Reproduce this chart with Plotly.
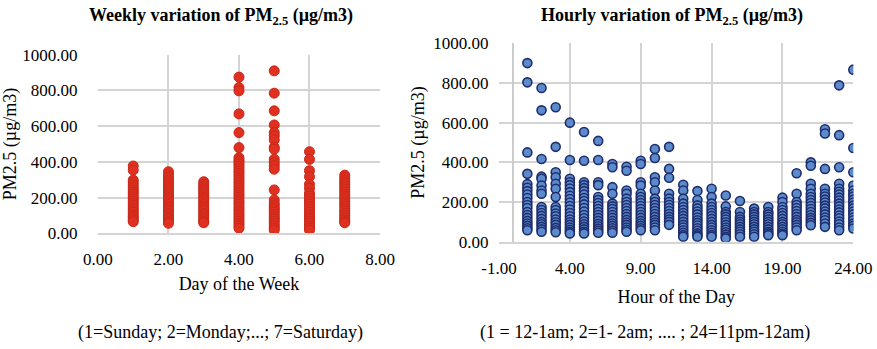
import plotly.graph_objects as go

# PM2.5 concentrations (µg/m3) grouped by day of week (1=Sunday ... 7=Saturday)
days = [1, 2, 3, 4, 5, 6, 7]
pm_by_day = [
    [377, 354, 298, 285, 270, 255, 242, 230, 218, 205, 192, 180, 168, 155, 142, 130, 118, 105, 95, 85, 75, 65],
    [345, 330, 315, 300, 288, 275, 262, 250, 238, 225, 212, 200, 188, 175, 162, 150, 138, 125, 112, 100, 88, 78, 66, 56],
    [289, 275, 262, 250, 238, 225, 212, 200, 188, 175, 162, 150, 138, 125, 112, 100, 88, 76, 66, 59],
    [875, 817, 798, 669, 564, 480, 424, 411, 401, 388, 375, 362, 348, 335, 322, 308, 295, 282, 268, 255,
     242, 228, 215, 202, 188, 175, 162, 148, 135, 122, 108, 95, 82, 68, 55, 42, 28],
    [910, 785, 686, 607, 564, 546, 523, 482, 471, 415, 396, 378, 359, 243, 187, 168, 155, 142, 130, 118,
     105, 92, 80, 68, 55, 42, 30, 18],
    [457, 414, 351, 317, 275, 252, 225, 210, 195, 180, 165, 150, 135, 120, 105, 92, 80, 68, 55, 42, 30, 18],
    [326, 312, 298, 285, 272, 258, 245, 232, 218, 205, 192, 178, 165, 152, 138, 125, 112, 100, 88, 76, 66, 59],
]

# PM2.5 concentrations (µg/m3) grouped by hour of day (1 = 12-1am ... 24 = 11pm-12am)
hours = list(range(1, 25))
pm_by_hour = [
    [900, 803, 450, 342, 290, 272, 255, 238, 220, 200, 185, 170, 150, 135, 120, 105, 92, 80, 68, 58],
    [775, 662, 417, 328, 317, 283, 258, 242, 175, 160, 145, 130, 115, 100, 88, 75, 62, 50],
    [678, 478, 350, 325, 292, 267, 225, 175, 160, 142, 128, 112, 98, 85, 70, 58, 48],
    [600, 412, 317, 300, 285, 268, 250, 232, 215, 198, 180, 162, 145, 128, 112, 98, 85, 72, 60, 50, 42],
    [553, 408, 300, 285, 270, 255, 238, 220, 205, 188, 170, 152, 135, 118, 102, 88, 75, 62, 50, 42],
    [508, 412, 300, 285, 225, 210, 195, 180, 165, 150, 135, 120, 105, 90, 78, 66, 55, 45],
    [392, 375, 275, 242, 192, 178, 165, 150, 135, 120, 105, 92, 80, 68, 56, 45],
    [378, 358, 258, 242, 217, 200, 185, 170, 155, 140, 125, 110, 97, 85, 72, 60, 50],
    [408, 392, 300, 283, 242, 225, 210, 195, 180, 165, 150, 135, 120, 105, 92, 80, 68, 58],
    [467, 422, 325, 300, 258, 217, 200, 185, 170, 155, 140, 125, 110, 97, 85, 72, 58],
    [478, 367, 322, 242, 217, 200, 185, 170, 155, 140, 125, 112, 100, 85],
    [287, 258, 217, 192, 175, 160, 145, 130, 115, 100, 85, 72, 58, 45, 33, 25],
    [255, 210, 183, 168, 152, 138, 122, 108, 95, 82, 68, 55, 42, 32, 25],
    [267, 225, 192, 175, 160, 145, 130, 115, 100, 85, 72, 58, 45, 33, 25],
    [233, 178, 150, 138, 125, 112, 98, 85, 72, 60, 48, 36, 25, 17],
    [205, 150, 125, 112, 100, 88, 75, 62, 50, 38, 25],
    [167, 150, 138, 125, 112, 100, 88, 75, 62, 50, 38, 25],
    [175, 150, 138, 125, 112, 100, 88, 75, 62, 50, 42, 33],
    [222, 200, 175, 160, 145, 130, 115, 100, 88, 75, 62, 50, 40, 33],
    [345, 242, 200, 185, 170, 155, 140, 125, 110, 98, 85, 72, 58],
    [400, 383, 292, 267, 242, 225, 210, 195, 180, 165, 150, 135, 120, 108, 95, 83],
    [567, 545, 367, 267, 242, 228, 212, 198, 182, 168, 152, 138, 122, 108, 92, 75],
    [788, 537, 375, 292, 267, 252, 238, 222, 208, 192, 178, 162, 148, 132, 118, 102, 88, 72, 58],
    [867, 472, 350, 283, 258, 242, 228, 212, 198, 182, 168, 152, 138, 122, 108, 92, 80, 67],
]

y_ticks = [0, 200, 400, 600, 800, 1000]
week_x_ticks = [0, 2, 4, 6, 8]
hour_x_ticks = [-1, 4, 9, 14, 19, 24]


def fmt(values):
    return [f"{v:.2f}" for v in values]


FONT = "Liberation Serif, serif"
GRID = "#d4d4d4"
CLEAR = "rgba(0,0,0,0)"

wx, wy = [], []
for d, vals in zip(days, pm_by_day):
    wx += [d] * len(vals)
    wy += vals

hx, hy = [], []
for h, vals in zip(hours, pm_by_hour):
    hx += [h] * len(vals)
    hy += vals

fig = go.Figure()
fig.add_trace(go.Scatter(
    x=wx, y=wy, mode="markers", xaxis="x", yaxis="y",
    marker=dict(size=10, color="#e0301f", line=dict(color="#c8281a", width=1)),
    showlegend=False,
))
fig.add_trace(go.Scatter(
    x=hx, y=hy, mode="markers", xaxis="x2", yaxis="y2",
    marker=dict(size=9, color="#5b8bcb", line=dict(color="#1f2d6e", width=1.6)),
    showlegend=False,
))

title_font = dict(family=FONT, size=18, color="#000")
tick_font = dict(family=FONT, size=17, color="#000")

axis_base = dict(showgrid=True, gridcolor=GRID, gridwidth=1.5, ticks="outside", tickcolor=CLEAR,
                 automargin=False, fixedrange=True, tickfont=tick_font, zeroline=False)

fig.update_layout(
    width=877, height=349,
    margin=dict(l=0, r=0, t=0, b=0, autoexpand=False),
    paper_bgcolor="white", plot_bgcolor="white",
    font=dict(family=FONT, color="#000", size=17),
    xaxis=dict(axis_base, domain=[0.1117, 0.4333], range=[0, 8],
               tickvals=week_x_ticks, ticktext=fmt(week_x_ticks),
               anchor="y", ticklen=10,
               showline=True, linecolor=GRID, linewidth=1.5,
               title=dict(text="Day of the Week", font=title_font, standoff=9)),
    yaxis=dict(axis_base, domain=[0.3315, 0.843], range=[0, 1000],
               tickvals=y_ticks, ticktext=fmt(y_ticks),
               anchor="x", ticklen=16,
               title=dict(text="PM2.5 (µg/m3)", font=title_font, standoff=8)),
    xaxis2=dict(axis_base, domain=[0.569, 0.973], range=[-1, 24],
                tickvals=hour_x_ticks, ticktext=fmt(hour_x_ticks),
                anchor="y2", ticklen=10,
                showline=True, linecolor=GRID, linewidth=1.5,
                zeroline=True, zerolinecolor="#cccccc", zerolinewidth=2,
                title=dict(text="Hour of the Day", font=title_font, standoff=14)),
    yaxis2=dict(axis_base, domain=[0.3074, 0.876], range=[0, 1000],
                tickvals=y_ticks, ticktext=fmt(y_ticks),
                anchor="x2", ticklen=6,
                title=dict(text="PM2.5 (µg/m3)", font=title_font, standoff=4)),
)

annotations = [
    dict(text="<b>Weekly variation of PM<sub>2.5</sub> (µg/m3)</b>", x=221, y=16),
    dict(text="<b>Hourly variation of PM<sub>2.5</sub> (µg/m3)</b>", x=672, y=16),
    dict(text="(1=Sunday; 2=Monday;...; 7=Saturday)", x=221, y=332),
    dict(text="(1 = 12-1am; 2=1- 2am; .... ; 24=11pm-12am)", x=645, y=332),
]
for a in annotations:
    fig.add_annotation(
        text=a["text"], xref="paper", yref="paper",
        x=a["x"] / 877, y=1 - a["y"] / 349,
        xanchor="center", yanchor="middle", showarrow=False,
        font=dict(family=FONT, size=18, color="#000"),
    )

fig.write_html("out.html")
